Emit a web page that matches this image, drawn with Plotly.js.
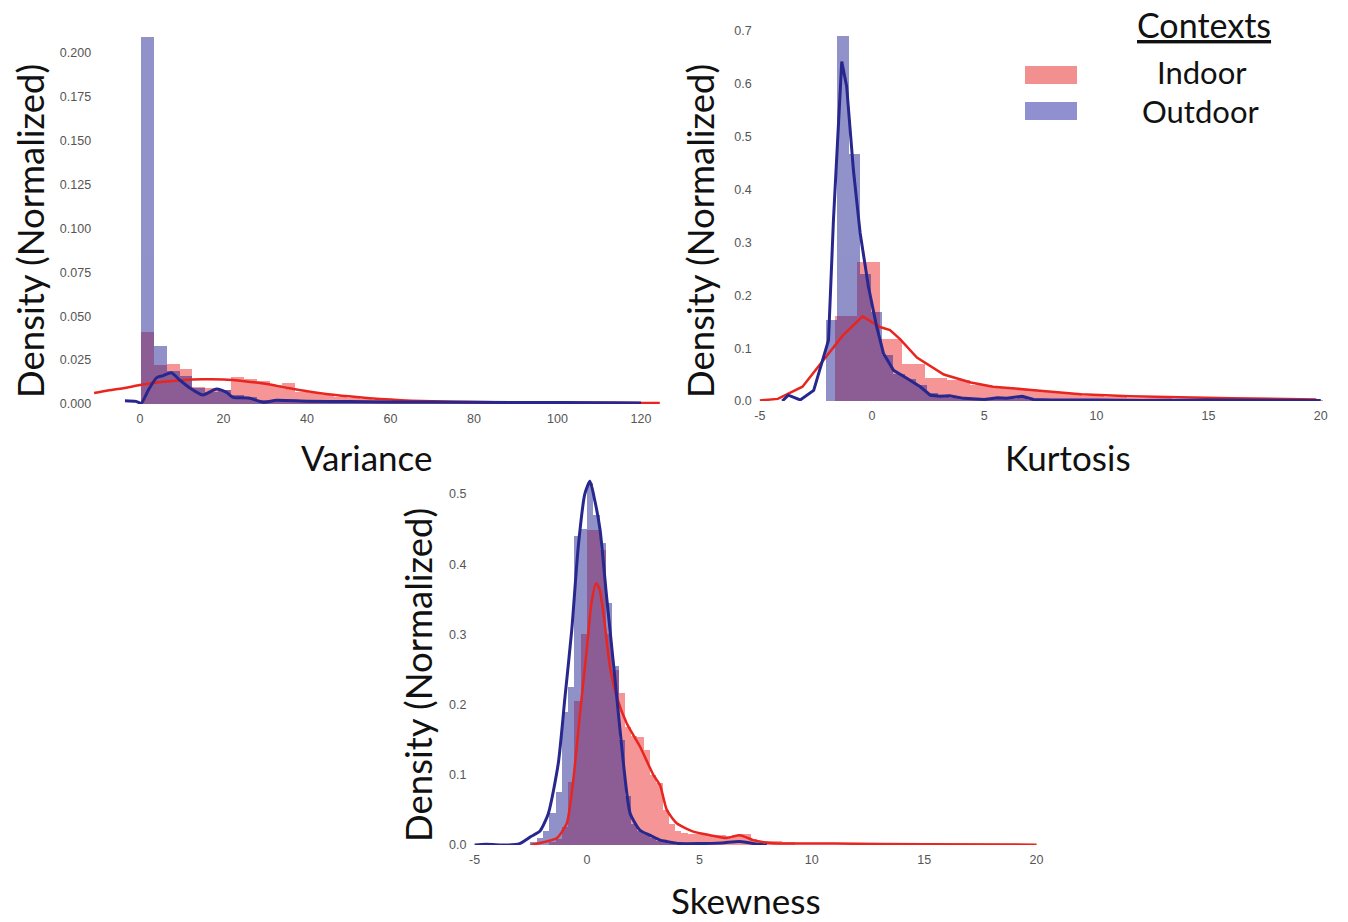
<!DOCTYPE html>
<html>
<head>
<meta charset="utf-8">
<script src="https://cdn.plot.ly/plotly-3.0.1.min.js"></script>
<style>html,body{margin:0;padding:0;background:#fff;}#chart{width:1348px;height:922px;}</style>
</head>
<body>
<div id="chart"></div>
<script>
// ---------- DATA ----------
// Variance histogram (bin centres and normalised density)
const varBins = [1.74, 4.82, 7.90, 10.98, 14.06, 17.14, 20.22, 23.30, 26.38, 29.46, 32.54, 35.62, 38.70, 41.78, 44.86, 47.94, 51.02, 54.10, 57.18, 60.26, 63.34, 66.42, 69.50, 72.58, 75.66, 78.74, 81.82, 84.90, 87.98, 91.06, 94.14, 97.22, 100.30, 103.38, 106.46, 109.54, 112.62, 115.70, 118.78, 121.86];
const varIndoor = [0.041, 0.022, 0.023, 0.020, 0.0099, 0.009, 0.008, 0.0156, 0.0145, 0.013, 0.011, 0.012, 0.007, 0.006, 0.005, 0.004, 0.0035, 0.003, 0.0025, 0.002, 0.0018, 0.0015, 0.0012, 0.001, 0.001, 0.0009, 0.0009, 0.0008, 0.0008, 0.0008, 0.0007, 0.0007, 0.0007, 0.0006, 0.0006, 0.0006, 0.0005, 0.0005, 0.0005, 0.0004];
const varOutdoor = [0.209, 0.033, 0.019, 0.016, 0.009, 0.007, 0.008, 0.005, 0.004, 0.002, 0.0025, 0.002, 0.0018, 0.0015, 0.0015, 0.0012, 0.0012, 0.001, 0.001, 0.001, 0.0009, 0.0009, 0.0008, 0.0008, 0.0008, 0.0007, 0.0007, 0.0007, 0.0006, 0.0006, 0.0006, 0.0006, 0.0005, 0.0005, 0.0005, 0.0004, 0.0004, 0.0004, 0.0003, 0.0003];
// Variance KDE curves
const varKdeIndoorX = [-11, -8, -4, 0, 5, 10, 15, 20, 25, 30, 35, 40, 45, 50, 55, 60, 65, 70, 80, 90, 100, 110, 120, 124.5];
const varKdeIndoorY = [0.0063, 0.0076, 0.009, 0.0108, 0.0125, 0.0136, 0.0141, 0.0140, 0.0130, 0.0115, 0.0093, 0.0072, 0.0056, 0.0044, 0.0033, 0.0025, 0.0019, 0.0015, 0.0011, 0.0009, 0.0008, 0.0007, 0.0006, 0.0005];
const varKdeOutdoorX = [-3.6, -1, 0.3, 2, 4, 5.6, 7.5, 9.5, 12, 15, 18.3, 20.7, 22.3, 26, 29.5, 32.7, 40, 50, 60, 80, 100, 120];
const varKdeOutdoorY = [0.0019, 0.0015, 0.0005, 0.008, 0.015, 0.0162, 0.0178, 0.0137, 0.009, 0.0051, 0.0085, 0.0066, 0.0038, 0.0034, 0.001, 0.0021, 0.0016, 0.0014, 0.0012, 0.001, 0.0008, 0.0006];

// Kurtosis histograms
const kurBinsIndoor = [-1.15, -0.15, 0.85, 1.85, 2.85, 3.85, 4.85, 5.85, 6.85, 7.85, 8.85, 9.85, 10.85, 11.85, 12.85, 13.85, 14.85, 15.85, 16.85, 17.85, 18.85, 19.85];
const kurIndoor = [0.161, 0.263, 0.117, 0.070, 0.044, 0.040, 0.030, 0.027, 0.022, 0.018, 0.015, 0.010, 0.008, 0.006, 0.005, 0.004, 0.004, 0.003, 0.003, 0.002, 0.002, 0.002];
const kurBinsOutdoor = [-1.8, -1.3, -0.8, -0.3, 0.2, 0.7, 1.2, 1.7, 2.2, 2.7, 3.2, 3.7, 4.2, 4.7, 5.2, 5.7, 6.2, 6.7, 7.2];
const kurOutdoor = [0.153, 0.690, 0.468, 0.240, 0.168, 0.087, 0.052, 0.042, 0.030, 0.015, 0.009, 0.006, 0.005, 0.004, 0.004, 0.005, 0.004, 0.006, 0.002];
// Kurtosis KDE curves
const kurKdeIndoorX = [-5, -4.2, -3.1, -2.0, -1.3, -0.42, 0.36, 0.8, 1.25, 2.0, 3.2, 4.4, 5.4, 7.1, 9.3, 11.5, 13.7, 16, 19.8];
const kurKdeIndoorY = [0.001, 0.004, 0.027, 0.085, 0.124, 0.160, 0.140, 0.134, 0.117, 0.082, 0.050, 0.035, 0.027, 0.021, 0.013, 0.009, 0.007, 0.005, 0.003];
const kurKdeOutdoorX = [-4.0, -3.73, -3.2, -2.6, -1.94, -1.72, -1.35, -1.13, -0.83, -0.53, -0.16, 0.21, 0.51, 0.96, 1.55, 2.15, 2.6, 3.04, 3.45, 4.1, 5.0, 5.6, 6.0, 6.7, 7.2, 8, 10, 12, 15, 20];
const kurKdeOutdoorY = [0.0, 0.011, 0.002, 0.02, 0.115, 0.342, 0.642, 0.595, 0.437, 0.318, 0.216, 0.14, 0.09, 0.058, 0.043, 0.027, 0.011, 0.009, 0.010, 0.005, 0.003, 0.006, 0.005, 0.009, 0.003, 0.002, 0.002, 0.001, 0.002, 0.001];

// Skewness histograms
const skeBinsIndoor = [-1.54, -1.26, -0.98, -0.70, -0.42, -0.14, 0.14, 0.42, 0.70, 0.98, 1.26, 1.54, 1.82, 2.10, 2.38, 2.66, 2.94, 3.22, 3.50, 3.78, 4.06, 4.34, 4.62, 4.90, 5.18, 5.46, 5.74, 6.02, 6.30, 6.58, 6.86, 7.14, 7.42, 7.70, 7.98, 8.26, 8.54, 8.82, 9.10];
const skeIndoor = [0.004, 0.008, 0.025, 0.09, 0.205, 0.30, 0.449, 0.449, 0.42, 0.30, 0.25, 0.216, 0.168, 0.155, 0.154, 0.135, 0.10, 0.088, 0.05, 0.03, 0.02, 0.017, 0.016, 0.015, 0.015, 0.014, 0.014, 0.014, 0.013, 0.014, 0.016, 0.016, 0.008, 0.006, 0.006, 0.005, 0.005, 0.004, 0.004];
const skeBinsOutdoor = [-2.38, -2.10, -1.82, -1.54, -1.26, -0.98, -0.70, -0.42, -0.14, 0.14, 0.42, 0.70, 0.98, 1.26, 1.54, 1.82, 2.10, 2.38, 2.66, 2.94, 3.22, 3.50, 3.78];
const skeOutdoor = [0.004, 0.01, 0.02, 0.045, 0.075, 0.19, 0.225, 0.44, 0.45, 0.515, 0.47, 0.43, 0.345, 0.255, 0.15, 0.07, 0.03, 0.02, 0.015, 0.01, 0.006, 0.004, 0.003];
// Skewness KDE curves
const skeKdeIndoorX = [-2.5, -1.8, -1.35, -0.9, -0.61, -0.31, 0.0, 0.2, 0.4, 0.55, 0.73, 1.02, 1.32, 1.77, 2.36, 2.95, 3.25, 3.55, 3.99, 4.73, 5.47, 6.21, 6.8, 7.39, 8.14, 9.2, 11, 15, 20];
const skeKdeIndoorY = [0.0, 0.005, 0.0095, 0.031, 0.093, 0.188, 0.282, 0.345, 0.373, 0.365, 0.33, 0.254, 0.211, 0.173, 0.14, 0.10, 0.085, 0.05, 0.031, 0.019, 0.014, 0.01, 0.014, 0.007, 0.003, 0.002, 0.002, 0.001, 0.0005];
const skeKdeOutdoorX = [-5, -4.5, -3.5, -3.0, -2.5, -2.09, -1.72, -1.28, -0.98, -0.68, -0.39, -0.1, 0.13, 0.35, 0.58, 0.87, 1.25, 1.62, 1.92, 2.36, 2.8, 3.25, 3.55, 4.1, 5, 6, 6.8, 7.6, 8];
const skeKdeOutdoorY = [0.0, 0.001, 0.0, 0.002, 0.012, 0.02, 0.045, 0.116, 0.211, 0.306, 0.425, 0.50, 0.518, 0.49, 0.449, 0.354, 0.235, 0.116, 0.045, 0.021, 0.014, 0.007, 0.005, 0.002, 0.002, 0.003, 0.005, 0.001, 0.0];

// Tick labels
const varXTicks = [0, 20, 40, 60, 80, 100, 120];
const varYTicks = [0, 0.025, 0.05, 0.075, 0.1, 0.125, 0.15, 0.175, 0.2];
const varYText = ['0.000', '0.025', '0.050', '0.075', '0.100', '0.125', '0.150', '0.175', '0.200'];
const kurXTicks = [-5, 0, 5, 10, 15, 20];
const kurXText = ['-5', '0', '5', '10', '15', '20'];
const kurYTicks = [0, 0.1, 0.2, 0.3, 0.4, 0.5, 0.6, 0.7];
const kurYText = ['0.0', '0.1', '0.2', '0.3', '0.4', '0.5', '0.6', '0.7'];
const skeYTicks = [0, 0.1, 0.2, 0.3, 0.4, 0.5];
const skeYText = ['0.0', '0.1', '0.2', '0.3', '0.4', '0.5'];

const seriesNames = ['Indoor', 'Outdoor'];

// ---------- STYLE ----------
const W = 1348, H = 922;
const barRed = 'rgb(236,45,45)';
const barBlue = 'rgb(38,38,150)';
const lineRed = '#e8251e';
const lineBlue = '#27278e';
const titleFont = {family: 'Lato, "Open Sans", sans-serif', size: 35, color: '#111'};
const yTitleFont = {family: 'Lato, "Open Sans", sans-serif', size: 36.5, color: '#111'};
const tickFont = {family: '"Liberation Sans", Arial, sans-serif', size: 12.5, color: '#555'};

function binWidth(c) { return (c[1] - c[0]); }
function px(x) { return x / W; }
function py(y) { return 1 - y / H; }

function hist(x, y, color, xa, ya, name) {
  return {type: 'bar', x: x, y: y, width: binWidth(x) * 1.01, xaxis: xa, yaxis: ya, name: name,
    opacity: 0.5, marker: {color: color, line: {width: 0}}, showlegend: false, hoverinfo: 'x+y'};
}
function kde(x, y, color, w, xa, ya, name, shape) {
  return {type: 'scatter', mode: 'lines', x: x, y: y, xaxis: xa, yaxis: ya, name: name,
    line: {color: color, width: w, shape: shape || 'spline', smoothing: 0.6}, showlegend: false};
}

const traces = [
  hist(varBins, varIndoor, barRed, 'x', 'y', seriesNames[0]),
  hist(varBins, varOutdoor, barBlue, 'x', 'y', seriesNames[1]),
  kde(varKdeIndoorX, varKdeIndoorY, lineRed, 2.5, 'x', 'y', seriesNames[0]),
  kde(varKdeOutdoorX, varKdeOutdoorY, lineBlue, 3, 'x', 'y', seriesNames[1]),

  hist(kurBinsIndoor, kurIndoor, barRed, 'x2', 'y2', seriesNames[0]),
  hist(kurBinsOutdoor, kurOutdoor, barBlue, 'x2', 'y2', seriesNames[1]),
  kde(kurKdeIndoorX, kurKdeIndoorY, lineRed, 2.5, 'x2', 'y2', seriesNames[0], 'linear'),
  kde(kurKdeOutdoorX, kurKdeOutdoorY, lineBlue, 3, 'x2', 'y2', seriesNames[1], 'linear'),

  hist(skeBinsIndoor, skeIndoor, barRed, 'x3', 'y3', seriesNames[0]),
  hist(skeBinsOutdoor, skeOutdoor, barBlue, 'x3', 'y3', seriesNames[1]),
  kde(skeKdeIndoorX, skeKdeIndoorY, lineRed, 2.5, 'x3', 'y3', seriesNames[0]),
  kde(skeKdeOutdoorX, skeKdeOutdoorY, lineBlue, 3, 'x3', 'y3', seriesNames[1])
];

function xax(domain, range, tv, tt, anchor) {
  const a = {domain: domain, range: range, anchor: anchor, showgrid: false, zeroline: false, showline: false,
    ticks: '', tickfont: tickFont, tickvals: tv, fixedrange: true, ticklabelstandoff: 5};
  if (tt) a.ticktext = tt;
  return a;
}
function yax(domain, range, tv, tt, anchor, so) {
  return {domain: domain, range: range, anchor: anchor, showgrid: false, zeroline: false, showline: false,
    ticks: '', tickfont: tickFont, tickvals: tv, ticktext: tt, fixedrange: true, ticklabelstandoff: so};
}

const layout = {
  width: W, height: H,
  margin: {l: 0, r: 0, t: 0, b: 0},
  paper_bgcolor: '#fff', plot_bgcolor: '#fff',
  barmode: 'overlay', bargap: 0,
  showlegend: false,
  xaxis: xax([px(94.1), px(661.9)], [-11, 125], varXTicks, null, 'y'),
  yaxis: yax([py(404), py(30)], [0, 0.2131], varYTicks, varYText, 'x', 2),
  xaxis2: xax([px(757.6), px(1323.0)], [-5.1, 20.1], kurXTicks, kurXText, 'y2'),
  yaxis2: yax([py(401), py(25)], [0, 0.7113], kurYTicks, kurYText, 'x2', 5),
  xaxis3: xax([px(472.4), px(1038.8)], [-5.1, 20.1], kurXTicks, kurXText, 'y3'),
  yaxis3: yax([py(845), py(470)], [0, 0.5342], skeYTicks, skeYText, 'x3', 5),
  annotations: [
    {text: 'Variance', x: px(366), y: py(457), xref: 'paper', yref: 'paper', showarrow: false, font: titleFont, xanchor: 'center', yanchor: 'middle'},
    {text: 'Kurtosis', x: px(1068), y: py(457), xref: 'paper', yref: 'paper', showarrow: false, font: titleFont, xanchor: 'center', yanchor: 'middle'},
    {text: 'Skewness', x: px(746), y: py(900), xref: 'paper', yref: 'paper', showarrow: false, font: titleFont, xanchor: 'center', yanchor: 'middle'},
    {text: 'Density (Normalized)', x: px(30), y: py(231), xref: 'paper', yref: 'paper', showarrow: false, font: yTitleFont, textangle: -90, xanchor: 'center', yanchor: 'middle'},
    {text: 'Density (Normalized)', x: px(700), y: py(231), xref: 'paper', yref: 'paper', showarrow: false, font: yTitleFont, textangle: -90, xanchor: 'center', yanchor: 'middle'},
    {text: 'Density (Normalized)', x: px(418), y: py(675), xref: 'paper', yref: 'paper', showarrow: false, font: yTitleFont, textangle: -90, xanchor: 'center', yanchor: 'middle'},
    {text: '<u>Contexts</u>', x: px(1204), y: py(25), xref: 'paper', yref: 'paper', showarrow: false, font: {family: titleFont.family, size: 34, color: '#111'}, xanchor: 'center', yanchor: 'middle'},
    {text: seriesNames[0], x: px(1202), y: py(72), xref: 'paper', yref: 'paper', showarrow: false, font: {family: titleFont.family, size: 31, color: '#111'}, xanchor: 'center', yanchor: 'middle'},
    {text: seriesNames[1], x: px(1200), y: py(111), xref: 'paper', yref: 'paper', showarrow: false, font: {family: titleFont.family, size: 31, color: '#111'}, xanchor: 'center', yanchor: 'middle'}
  ],
  shapes: [
    {type: 'rect', xref: 'paper', yref: 'paper', x0: px(1025), x1: px(1077), y0: py(84), y1: py(66), fillcolor: '#f29090', line: {width: 0}},
    {type: 'rect', xref: 'paper', yref: 'paper', x0: px(1025), x1: px(1077), y0: py(120), y1: py(102), fillcolor: '#9090d0', line: {width: 0}}
  ]
};

Plotly.newPlot('chart', traces, layout, {displayModeBar: false, staticPlot: true});
</script>
</body>
</html>
